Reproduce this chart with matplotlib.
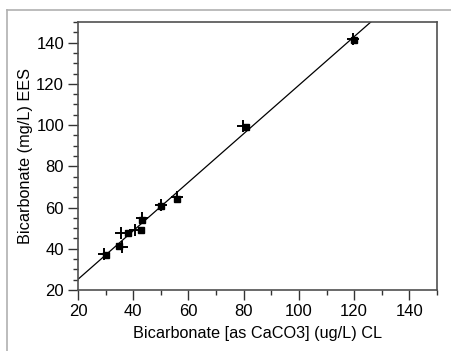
import matplotlib
matplotlib.use("Agg")
import matplotlib.pyplot as plt
from matplotlib.ticker import MultipleLocator
import numpy as np

# Data
cl_plus = [29.3, 35.7, 35.9, 40.7, 43.1, 50.2, 56.0, 79.9, 119.7]
ees_plus = [37.5, 47.5, 41.0, 49.2, 54.8, 61.3, 65.0, 99.4, 141.6]
cl_sq = [30.0, 38.1, 34.7, 42.9, 43.0, 50.0, 56.0, 80.8, 119.9]
ees_sq = [36.9, 47.5, 41.2, 49.2, 54.0, 60.6, 64.3, 98.9, 141.3]
fit_slope = 1.177
fit_intercept = 1.66

x_ticks = [20, 40, 60, 80, 100, 120, 140]
y_ticks = [20, 40, 60, 80, 100, 120, 140]
x_label = "Bicarbonate [as CaCO3] (ug/L) CL"
y_label = "Bicarbonate (mg/L) EES"

plt.rcParams['font.family'] = ['Liberation Sans', 'DejaVu Sans']

fig = plt.figure(figsize=(4.51, 3.51), dpi=100)

# outer panel border (top and left visible)
fig.add_artist(plt.Line2D([7/451, 1], [1 - 10/351, 1 - 10/351], color='#b0b0b0', lw=1.2,
                          transform=fig.transFigure))
fig.add_artist(plt.Line2D([7/451, 7/451], [0, 1 - 10/351], color='#b0b0b0', lw=1.2,
                          transform=fig.transFigure))

ax = fig.add_axes([78/451, 1 - 290/351, (437 - 78)/451, (290 - 22)/351])

xx = np.array([20, 150])
ax.plot(xx, fit_slope * xx + fit_intercept, color='black', lw=0.9, zorder=2)
ax.plot(cl_sq, ees_sq, linestyle='none', marker='s', markersize=4, color='black', zorder=3)
ax.plot(cl_plus, ees_plus, linestyle='none', marker='+', markersize=8.5, mew=1.4, color='black', zorder=4)

ax.set_xlim(20, 150)
ax.set_ylim(20, 150)
ax.set_xticks(x_ticks)
ax.set_yticks(y_ticks)
ax.xaxis.set_minor_locator(MultipleLocator(10))
ax.yaxis.set_minor_locator(MultipleLocator(5))
ax.tick_params(which='major', length=7, width=1, color='#333333', labelsize=12, pad=3)
ax.tick_params(which='minor', length=3.5, width=1, color='#333333')
for s in ax.spines.values():
    s.set_color('#505050')
    s.set_linewidth(1.2)

ax.set_xlabel(x_label, fontsize=11.7, labelpad=5)
ax.set_ylabel(y_label, fontsize=11.7, labelpad=2)

fig.savefig("out.png", dpi=100)
